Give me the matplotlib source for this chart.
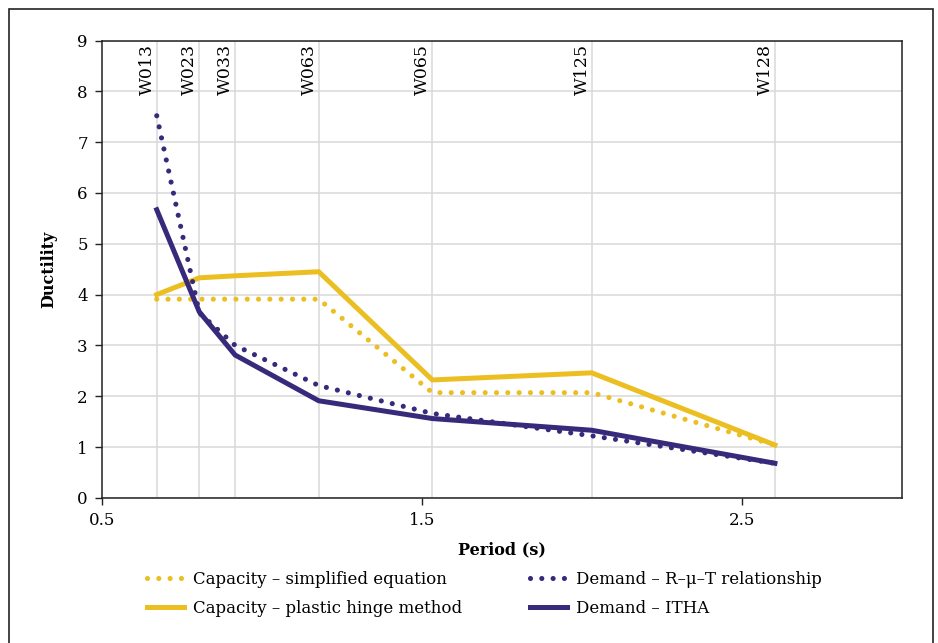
import matplotlib
matplotlib.use("Agg")
import matplotlib.pyplot as plt
from matplotlib.lines import Line2D
from matplotlib.patches import Rectangle

YELLOW = "#EBBF22"
PURPLE = "#372A7B"
GRID = "#D9D9D9"

specimens = ["W013", "W023", "W033", "W063", "W065", "W125", "W128"]
period = [0.672, 0.805, 0.917, 1.178, 1.533, 2.031, 2.603]
cap_simplified = [3.91, 3.91, 3.91, 3.91, 2.07, 2.07, 1.04]
cap_plastic = [4.00, 4.33, 4.37, 4.45, 2.32, 2.46, 1.04]
dem_rmt = [7.52, 3.64, 3.00, 2.21, 1.66, 1.22, 0.68]
dem_itha = [5.67, 3.66, 2.81, 1.91, 1.56, 1.33, 0.68]

x_ticks = [0.5, 1.5, 2.5]
y_ticks = list(range(0, 10))

plt.rcParams["font.family"] = ["DejaVu Serif"]

fig = plt.figure(figsize=(9.38, 6.43), dpi=100)
ax = fig.add_axes([0.1084, 0.2258, 0.8532, 0.7111])

# horizontal grid + specimen gridlines
for y in y_ticks:
    ax.axhline(y, color=GRID, lw=1.1, zorder=0)
for p in period:
    ax.axvline(p, color=GRID, lw=1.1, zorder=0)

dots = (0, (0.001, 2.2))
ax.plot(period, cap_simplified, color=YELLOW, lw=3.7, linestyle=dots,
        dash_capstyle="round", zorder=3)
ax.plot(period, dem_rmt, color=PURPLE, lw=3.7, linestyle=dots,
        dash_capstyle="round", zorder=3)
ax.plot(period, cap_plastic, color=YELLOW, lw=3.6, solid_joinstyle="miter", zorder=2)
ax.plot(period, dem_itha, color=PURPLE, lw=3.6, solid_joinstyle="miter", zorder=4)

for name, p in zip(specimens, period):
    ax.text(p - 0.004, 8.93, name, rotation=90, ha="right", va="top", fontsize=12.5)

ax.set_xlim(0.5, 3.0)
ax.set_ylim(0, 9)
ax.set_xticks(x_ticks)
ax.set_xticklabels([f"{x:.1f}" for x in x_ticks])
ax.set_yticks(y_ticks)
ax.tick_params(labelsize=12, length=5, width=1, color="#222222", pad=5)
for spine in ax.spines.values():
    spine.set_color("#222222")
    spine.set_linewidth(1.1)

fig.text(0.052, 0.5817, "Ductility", rotation=90, ha="center", va="center",
         fontsize=11.5, fontweight="bold")
fig.text(0.5352, 1 - 550 / 643, "Period (s)", ha="center", va="center",
         fontsize=11.5, fontweight="bold")

handles = [
    Line2D([], [], color=YELLOW, lw=3.7, linestyle=dots, dash_capstyle="round"),
    Line2D([], [], color=YELLOW, lw=3.6),
    Line2D([], [], color=PURPLE, lw=3.7, linestyle=dots, dash_capstyle="round"),
    Line2D([], [], color=PURPLE, lw=3.6),
]
labels = [
    "Capacity – simplified equation",
    "Capacity – plastic hinge method",
    "Demand – R–μ–T relationship",
    "Demand – ITHA",
]
fig.legend(handles, labels, ncol=2, loc="upper left",
           bbox_to_anchor=(147 / 938, 1 - 571 / 643), frameon=False, fontsize=12,
           handlelength=2.2, handletextpad=0.55, columnspacing=4.1,
           labelspacing=0.7, borderaxespad=0, borderpad=0)

fig.patches.append(Rectangle((9 / 938, -0.05), 924 / 938, 634 / 643 + 0.05,
                             transform=fig.transFigure, fill=False,
                             edgecolor="#222222", lw=1.2))

fig.savefig("out.png", dpi=100)
